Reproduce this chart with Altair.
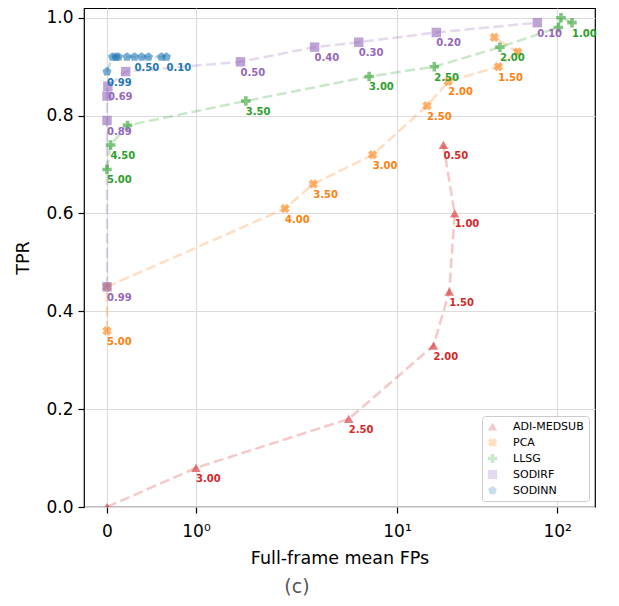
import math
import altair as alt
import pandas as pd

# ---------------- data ----------------
methods = ["ADI-MEDSUB", "PCA", "LLSG", "SODIRF", "SODINN"]
colors = ["#d62728", "#ff7f0e", "#2ca02c", "#9467bd", "#1f77b4"]

adi_fp = [0, 1.0, 5.0, 16.9, 21.2, 22.9, 19.5]
adi_tpr = [0.0, 0.08, 0.18, 0.33, 0.44, 0.60, 0.74]
adi_lbl = ["", "3.00", "2.50", "2.00", "1.50", "1.00", "0.50"]

pca_fp = [0, 0, 2.0, 3.0, 7.05, 15.4, 20.9, 42.9, 56.7, 40.5]
pca_tpr = [0.36, 0.45, 0.61, 0.66, 0.72, 0.82, 0.87, 0.90, 0.93, 0.96]
pca_lbl = ["5.00", "", "4.00", "3.50", "3.00", "2.50", "2.00", "1.50", "", ""]

llsg_fp = [0, 0.04, 0.23, 1.56, 6.7, 17.1, 43.9, 101.6, 105.6, 123.7]
llsg_tpr = [0.69, 0.74, 0.78, 0.83, 0.88, 0.90, 0.94, 0.98, 1.00, 0.99]
llsg_lbl = ["5.00", "4.50", "", "3.50", "3.00", "2.50", "2.00", "", "", "1.00"]

sodirf_fp = [0, 0, 0, 0.01, 0.21, 1.5, 3.06, 5.77, 17.6, 75.2]
sodirf_tpr = [0.45, 0.79, 0.84, 0.86, 0.89, 0.91, 0.94, 0.95, 0.97, 0.99]
sodirf_lbl = ["0.99", "0.89", "", "0.69", "", "0.50", "0.40", "0.30", "0.20", "0.10"]

sodinn_fp = [0, 0.062, 0.10, 0.129, 0.225, 0.309, 0.39, 0.466, 0.612, 0.668]
sodinn_tpr = [0.89, 0.92, 0.92, 0.92, 0.92, 0.92, 0.92, 0.92, 0.92, 0.92]
sodinn_lbl = ["0.99", "", "", "", "", "0.50", "", "", "", "0.10"]

x_tick_values = [0, 1, 10, 100]
x_tick_labels = ["0", "10\u2070", "10\u00b9", "10\u00b2"]
y_ticks = [0.0, 0.2, 0.4, 0.6, 0.8, 1.0]

# ---------------- table ----------------
series = [
    (adi_fp, adi_tpr, adi_lbl),
    (pca_fp, pca_tpr, pca_lbl),
    (llsg_fp, llsg_tpr, llsg_lbl),
    (sodirf_fp, sodirf_tpr, sodirf_lbl),
    (sodinn_fp, sodinn_tpr, sodinn_lbl),
]
rows = []
for m, c, (fps, tprs, lbls) in zip(methods, colors, series):
    for i, (f, t, l) in enumerate(zip(fps, tprs, lbls)):
        rows.append({"method": m, "col": c, "fp": f, "tpr": t, "lbl": l, "ord": i})
df = pd.DataFrame(rows)

# symmetric-log transform (linthresh=2, linscale=1, base 10)
LS = 1 / 0.9


def symlog(v):
    return v * LS if v <= 2 else 2 * (LS + math.log10(v / 2))


symlog_expr = "datum.fp <= 2 ? datum.fp / 0.9 : 2 * (1 / 0.9 + log(datum.fp / 2) / LN10)"
tick_pos = [symlog(v) for v in x_tick_values]
label_expr = (
    f"datum.value < {(tick_pos[0]+tick_pos[1])/2} ? '{x_tick_labels[0]}' : "
    f"datum.value < {(tick_pos[1]+tick_pos[2])/2} ? '{x_tick_labels[1]}' : "
    f"datum.value < {(tick_pos[2]+tick_pos[3])/2} ? '{x_tick_labels[2]}' : '{x_tick_labels[3]}'"
)


# marker shapes (SVG paths in unit coordinates)
def plus_pts(w):
    return [(-w, -1), (w, -1), (w, -w), (1, -w), (1, w), (w, w), (w, 1), (-w, 1),
            (-w, w), (-1, w), (-1, -w), (-w, -w)]


def to_path(pts):
    return "M" + "L".join(f"{x:.3f},{y:.3f}" for x, y in pts) + "Z"


_w = 0.45
_rot = [((x - y) / math.sqrt(2), (x + y) / math.sqrt(2)) for x, y in plus_pts(_w)]
_m = max(max(abs(x), abs(y)) for x, y in _rot)
X_PATH = to_path([(x / _m, y / _m) for x, y in _rot])
P_PATH = to_path(plus_pts(0.38))
PENT_PATH = "M0,-1L0.951,-0.309L0.588,0.809L-0.588,0.809L-0.951,-0.309Z"
shapes = ["triangle-up", X_PATH, P_PATH, "square", PENT_PATH]

color_scale = alt.Scale(domain=methods, range=colors)
shape_scale = alt.Scale(domain=methods, range=shapes)

x_enc = alt.X(
    "u:Q",
    scale=alt.Scale(domain=[-0.287, 6.092], nice=False, zero=False),
    axis=alt.Axis(values=tick_pos, labelExpr=label_expr, title="Full-frame mean FPs"),
)
y_enc = alt.Y(
    "tpr:Q",
    scale=alt.Scale(domain=[0, 1.02], nice=False),
    axis=alt.Axis(values=y_ticks, format=".1f", title="TPR"),
)

base = alt.Chart(df).transform_calculate(u=symlog_expr)

lines = base.mark_line(
    strokeDash=[10, 4.5], strokeWidth=2.5, opacity=0.25, clip=True
).encode(
    x=x_enc, y=y_enc,
    color=alt.Color("col:N", scale=None),
    detail="method:N",
    order="ord:Q",
)

legend = alt.Legend(
    title=None, orient="bottom-right", offset=6,
    labelFont="DejaVu Sans", labelFontSize=11, labelColor="black",
    symbolSize=85, symbolOpacity=1, symbolStrokeWidth=0,
    fillColor="white", strokeColor="#cccccc", cornerRadius=3,
    padding=5, rowPadding=4, labelOffset=15,
)

points = base.mark_point(
    filled=True, size=90, strokeWidth=0, clip=True, opacity=1, fillOpacity=0.6
).encode(
    x=x_enc, y=y_enc,
    color=alt.Color("method:N", scale=color_scale, sort=methods, legend=legend),
    shape=alt.Shape("method:N", scale=shape_scale, sort=methods, legend=legend),
)

texts = base.transform_filter("datum.lbl != ''").mark_text(
    align="left", baseline="middle", dy=11, fontWeight="bold", fontSize=10,
    font="DejaVu Sans"
).encode(
    x=x_enc, y=y_enc,
    text="lbl:N",
    color=alt.Color("col:N", scale=None),
)

caption = alt.Chart(pd.DataFrame({"t": ["(c)"]})).mark_text(
    fontSize=19, color="#555555", font="DejaVu Sans", baseline="middle", align="center"
).encode(text="t:N", x=alt.value(213), y=alt.value(579))

chart = alt.layer(lines, points, texts, caption).properties(
    width=511, height=499,
    padding={"left": 76, "top": 0, "right": 16, "bottom": 91},
    autosize=alt.AutoSizeParams(type="none"),
).configure_view(
    stroke="black", strokeWidth=1.2
).configure_axis(
    domain=False,
    grid=True, gridColor="#dcdcdc", gridWidth=1.2,
    tickColor="black", tickSize=6, tickWidth=1.2,
    labelFont="DejaVu Sans", labelFontSize=17, labelColor="black", labelPadding=5,
    titleFont="DejaVu Sans", titleFontSize=17.5, titleFontWeight="normal", titleColor="black",
).configure_axisX(
    labelPadding=10, titlePadding=10,
).configure_axisY(
    titlePadding=13,
)

chart.save("out.html", embed_options={"renderer": "svg", "actions": False})
